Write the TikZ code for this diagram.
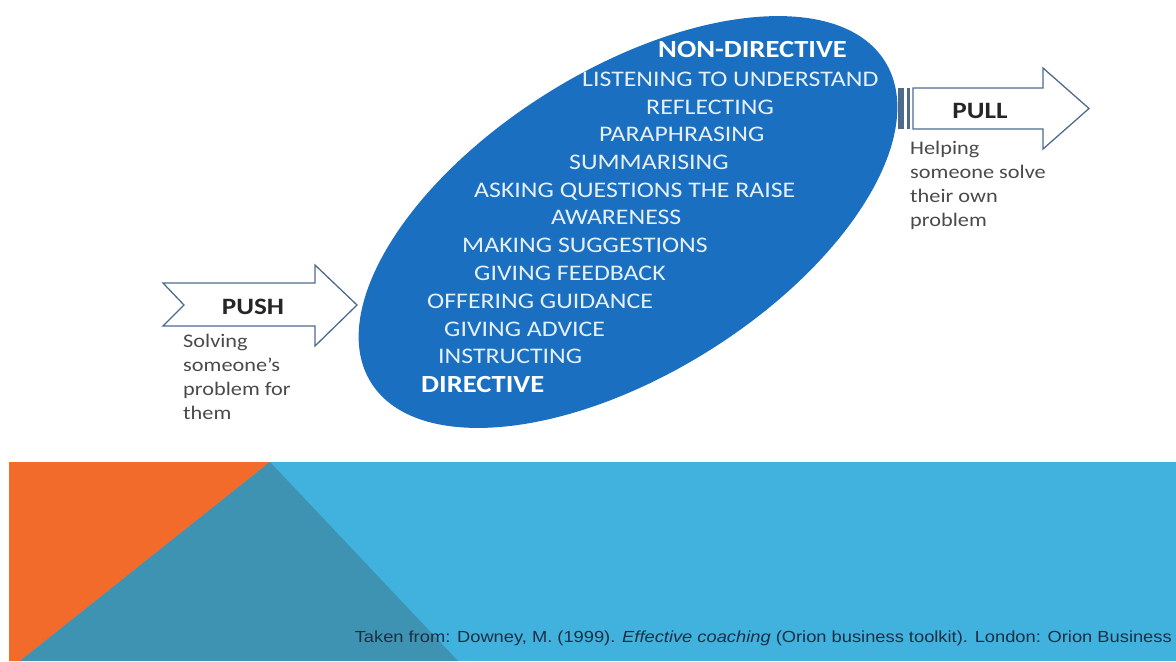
\documentclass[tikz,border=0pt]{standalone}
\usepackage{fontspec}
\setmainfont[FakeStretch=1.16]{Carlito}
\newfontfamily\citefont[FakeStretch=1.14]{Liberation Sans}

\definecolor{ovalblue}{HTML}{1B6FC1}
\definecolor{itemwhite}{HTML}{E6F0FA}
\definecolor{arrowline}{HTML}{4E6B8C}
\definecolor{notegray}{HTML}{4A4A4A}
\definecolor{bandblue}{HTML}{41B1DE}
\definecolor{bandteal}{HTML}{3F93B2}
\definecolor{bandorange}{HTML}{F26B2A}
\definecolor{citeblue}{HTML}{1C2F45}

\begin{document}
\begin{tikzpicture}[x=0.03cm,y=-0.03cm,
		item/.style={anchor=base west,inner sep=0pt,text=itemwhite,font=\fontsize{19}{22}\selectfont},
		pole/.style={item,text=white,font=\fontsize{21}{24}\selectfont\bfseries},
		arrowbox/.style={draw=arrowline,fill=white,line width=1.1pt,line join=miter},
		arrowword/.style={text=black!85,font=\fontsize{20}{22}\selectfont\bfseries},
		note/.style={anchor=north west,inner sep=0pt,align=left,text=notegray,font=\fontsize{16.4}{20.6}\selectfont}]
	\useasboundingbox (0,0) rectangle (1176,661);

	% lower band
	\fill[bandblue] (9,462) rectangle (1176,661);
	\fill[bandorange] (9,462) -- (270,462) -- (20,661) -- (9,661) -- cycle;
	\fill[bandteal] (270,462) -- (458,661) -- (20,661) -- cycle;
	\node[anchor=base east,inner sep=0pt,text=citeblue,font=\citefont\fontsize{13.7}{15}\selectfont] (cite) at (1172,642)
		{Taken from: Downey, M. (1999). \textit{Effective coaching} (Orion business toolkit). London: Orion Business};

	% the oval
	\fill[ovalblue,rotate around={32:(628,222)}] (628,222) ellipse [x radius=9.09cm,y radius=4.56cm];

	\node[pole] (nondir) at (658,57) {NON-DIRECTIVE};
	\node[item] (listen) at (582,86) {LISTENING TO UNDERSTAND};
	\node[item] (reflect) at (646,114) {REFLECTING};
	\node[item] (para) at (599,141.5) {PARAPHRASING};
	\node[item] (summ) at (569,169) {SUMMARISING};
	\node[item] (ask) at (474,197) {ASKING QUESTIONS THE RAISE};
	\node[item] (aware) at (551,224.5) {AWARENESS};
	\node[item] (suggest) at (462,252) {MAKING SUGGESTIONS};
	\node[item] (feedback) at (474,280) {GIVING FEEDBACK};
	\node[item] (guide) at (427,308) {OFFERING GUIDANCE};
	\node[item] (advice) at (444,336) {GIVING ADVICE};
	\node[item] (instruct) at (438,363) {INSTRUCTING};
	\node[pole] (dir) at (421,392) {DIRECTIVE};

	% push arrow
	\draw[arrowbox] (163,283) -- (315,283) -- (315,265) -- (357,305) -- (315,346)
		-- (315,326) -- (163,326) -- (184,305) -- cycle;
	\node[arrowword] (push) at (253,307) {PUSH};
	\node[note] (pushnote) at (183,334) {Solving\\someone's\\problem for\\them};

	% pull arrow
	\fill[arrowline] (898,88) rectangle (904,129);
	\fill[arrowline] (907,88) rectangle (910,129);
	\draw[arrowbox] (913,88) -- (1043,88) -- (1043,68) -- (1089,108.5) -- (1043,149)
		-- (1043,129) -- (913,129) -- cycle;
	\node[arrowword] (pull) at (980,111) {PULL};
	\node[note] (pullnote) at (910,141) {Helping\\someone solve\\their own\\problem};
\end{tikzpicture}
\end{document}
